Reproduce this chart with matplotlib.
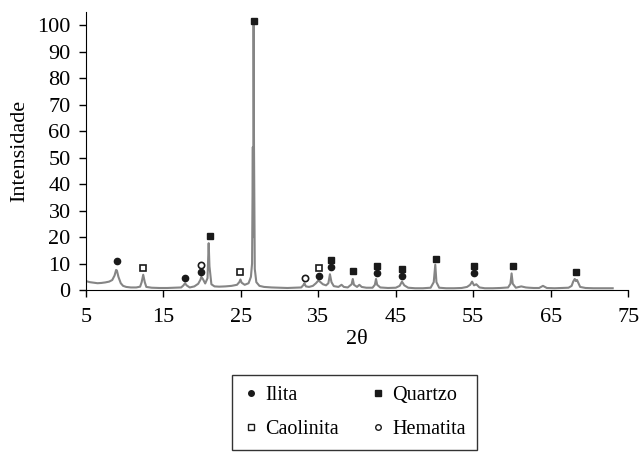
# Difratograma de raios X da argila com identificação das fases
import matplotlib.pyplot as plt
from matplotlib.lines import Line2D

plt.rcParams['font.family'] = ['Liberation Serif', 'DejaVu Serif']

# Perfil do difratograma (2θ, intensidade relativa)
dois_theta = [5.0, 5.5, 6.0, 6.5, 7.0, 7.5, 8.0, 8.4, 8.7, 8.9, 9.0, 9.2, 9.5, 9.8, 10.2,
              10.8, 11.5, 12.0, 12.2, 12.4, 12.6, 12.8, 13.5, 14.5, 15.5, 16.5, 17.3,
              17.6, 17.8, 18.0, 18.4, 19.0, 19.5, 19.8, 19.9, 20.1, 20.4, 20.7, 20.85,
              20.95, 21.2, 21.6, 22.2, 23.0, 23.8, 24.5, 24.8, 24.95, 25.1, 25.5, 26.0,
              26.3, 26.45, 26.55, 26.6, 26.65, 26.7, 26.8, 27.0, 27.4, 28.0, 29.0, 30.0,
              31.0, 32.0, 32.8, 33.1, 33.2, 33.4, 33.8, 34.3, 34.7, 35.0, 35.2, 35.6,
              36.0, 36.3, 36.5, 36.7, 37.0, 37.6, 38.0, 38.3, 38.8, 39.3, 39.45, 39.6,
              40.0, 40.3, 40.6, 41.2, 42.0, 42.3, 42.45, 42.6, 43.0, 44.0, 45.0, 45.5,
              45.8, 46.1, 46.6, 47.5, 48.5, 49.5, 49.9, 50.1, 50.25, 50.6, 51.5, 52.5,
              53.5, 54.2, 54.6, 54.85, 55.1, 55.4, 55.8, 56.5, 57.5, 58.5, 59.5, 59.8,
              59.95, 60.1, 60.5, 61.2, 61.8, 62.2, 62.8, 63.5, 64.0, 64.5, 65.5, 66.5,
              67.3, 67.7, 67.9, 68.1, 68.25, 68.4, 68.8, 69.5, 70.5, 71.5, 72.5, 73.0]
intensidade = [3.4, 3.0, 2.8, 2.6, 2.7, 2.9, 3.2, 3.8, 5.5, 7.6, 7.4, 5.0, 2.6, 1.6, 1.2,
               1.0, 1.0, 1.3, 3.0, 5.8, 3.0, 1.2, 0.9, 0.8, 0.8, 0.9, 1.0,
               1.8, 2.6, 1.8, 1.0, 1.4, 2.4, 4.0, 5.0, 4.2, 2.5, 4.5, 17.7,
               9.0, 2.2, 1.4, 1.3, 1.4, 1.6, 2.0, 3.0, 4.0, 2.8, 2.0, 2.6,
               5.0, 10.0, 54.0, 20.0, 100.0, 54.0, 8.0, 3.0, 1.6, 1.2, 1.0, 0.9,
               0.8, 0.9, 1.0, 2.0, 2.6, 1.4, 1.2, 1.6, 2.6, 3.6, 3.2, 2.2,
               1.8, 2.6, 6.0, 3.0, 1.5, 1.2, 2.0, 1.2, 1.0, 2.2, 4.2, 2.0,
               1.2, 2.0, 1.2, 0.9, 0.9, 2.0, 4.2, 2.0, 1.0, 0.8, 0.9, 1.6,
               3.2, 1.8, 0.9, 0.7, 0.7, 0.9, 3.0, 9.6, 3.0, 0.9, 0.7, 0.7,
               0.8, 1.2, 2.0, 3.2, 1.8, 2.2, 1.0, 0.7, 0.7, 0.8, 1.0, 2.4,
               6.3, 2.4, 0.9, 1.4, 1.0, 0.9, 0.8, 0.8, 1.6, 0.8, 0.7, 0.8,
               0.9, 1.6, 3.2, 4.2, 3.4, 3.8, 1.2, 0.8, 0.7, 0.7, 0.7, 0.7]

# Posições dos símbolos de cada fase
ilita_x = [9.0, 17.8, 19.9, 35.1, 36.6, 42.6, 45.8, 55.1]
ilita_y = [10.9, 4.5, 6.8, 5.3, 8.7, 6.4, 5.3, 6.4]
quartzo_x = [21.0, 26.7, 36.6, 39.5, 42.6, 45.8, 50.2, 55.1, 60.1, 68.3]
quartzo_y = [20.4, 101.5, 11.3, 7.2, 9.1, 7.9, 11.7, 9.1, 9.1, 6.8]
caolinita_x = [12.4, 24.9, 35.1]
caolinita_y = [8.3, 6.8, 8.3]
hematita_x = [19.9, 33.3]
hematita_y = [9.4, 4.5]

fig = plt.figure(figsize=(6.41, 4.54), dpi=100)
ax = fig.add_axes([0.134, 0.361, 0.846, 0.613])

ax.plot(dois_theta, intensidade, color='#858585', linewidth=1.5)

ms = 4.5
ax.plot(ilita_x, ilita_y, 'o', color='#1a1a1a', ms=ms, ls='none')
ax.plot(quartzo_x, quartzo_y, 's', color='#1a1a1a', ms=ms, ls='none')
ax.plot(caolinita_x, caolinita_y, 's', mfc='white', mec='#1a1a1a', mew=1.2, ms=ms, ls='none')
ax.plot(hematita_x, hematita_y, 'o', mfc='white', mec='#1a1a1a', mew=1.2, ms=ms, ls='none')

ax.set_xlim(5, 75)
ax.set_ylim(0, 105)
ax.set_xticks(range(5, 76, 10))
ax.set_yticks(range(0, 101, 10))
ax.spines['top'].set_visible(False)
ax.spines['right'].set_visible(False)
ax.tick_params(labelsize=16, direction='out', length=5, width=1)
ax.tick_params(axis='x', pad=8)
ax.tick_params(axis='y', pad=6)
ax.set_xlabel('2θ', fontsize=16, labelpad=2)
ax.set_ylabel('Intensidade', fontsize=16, labelpad=6)

# Legenda em duas colunas, abaixo do gráfico
kw = dict(ls='none', ms=4)
handles = [Line2D([], [], marker='o', color='#1a1a1a', **kw),
           Line2D([], [], marker='s', mfc='white', mec='#1a1a1a', mew=1, **kw),
           Line2D([], [], marker='s', color='#1a1a1a', **kw),
           Line2D([], [], marker='o', mfc='white', mec='#1a1a1a', mew=1, **kw)]
labels = ['Ilita', 'Caolinita', 'Quartzo', 'Hematita']
leg = fig.legend(handles, labels, ncol=2, loc='upper left',
                 bbox_to_anchor=(232 / 641, 1 - 375 / 454), borderaxespad=0,
                 fontsize=14.5, frameon=True, fancybox=False, edgecolor='black',
                 handlelength=0.8, handletextpad=0.3, columnspacing=1.55,
                 borderpad=0.55, labelspacing=0.75)
leg.get_frame().set_linewidth(1.0)

fig.savefig('out.png', dpi=100)
